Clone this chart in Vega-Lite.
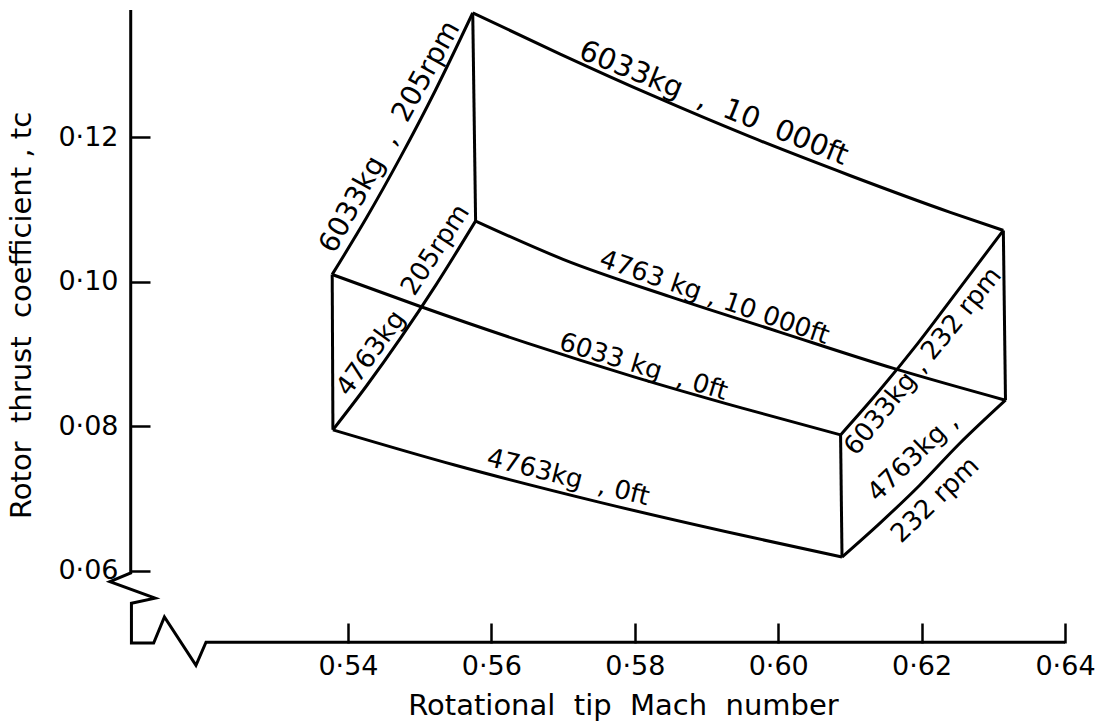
{
  "$schema": "https://vega.github.io/schema/vega-lite/v6.json",
  "width": 935,
  "height": 633,
  "autosize": {"type": "none"},
  "padding": {"left": 130, "top": 10, "right": 42, "bottom": 85},
  "background": "white",
  "config": {"view": {"stroke": null}},
  "datasets": {
    "axisline": [
      {"i": 0, "x": 0.5097, "y": 0.1376},
      {"i": 1, "x": 0.5097, "y": 0.0597},
      {"i": 2, "x": 0.5068, "y": 0.0585},
      {"i": 3, "x": 0.5131, "y": 0.0562},
      {"i": 4, "x": 0.5098, "y": 0.0555},
      {"i": 5, "x": 0.5098, "y": 0.0500},
      {"i": 6, "x": 0.5129, "y": 0.0500},
      {"i": 7, "x": 0.5144, "y": 0.0536},
      {"i": 8, "x": 0.5188, "y": 0.0469},
      {"i": 9, "x": 0.5202, "y": 0.0501},
      {"i": 10, "x": 0.6400, "y": 0.0501}
    ],
    "lines": [
      {"seg": "A", "i": 0, "x": 0.5574, "y": 0.1372},
      {"seg": "A", "i": 1, "x": 0.5696, "y": 0.1315},
      {"seg": "A", "i": 2, "x": 0.5826, "y": 0.1257},
      {"seg": "A", "i": 3, "x": 0.5960, "y": 0.1201},
      {"seg": "A", "i": 4, "x": 0.6100, "y": 0.1147},
      {"seg": "A", "i": 5, "x": 0.6240, "y": 0.1096},
      {"seg": "A", "i": 6, "x": 0.6314, "y": 0.1071},

      {"seg": "B", "i": 0, "x": 0.5378, "y": 0.1010},
      {"seg": "B", "i": 1, "x": 0.5500, "y": 0.0966},
      {"seg": "B", "i": 2, "x": 0.5650, "y": 0.0915},
      {"seg": "B", "i": 3, "x": 0.5800, "y": 0.0868},
      {"seg": "B", "i": 4, "x": 0.5950, "y": 0.0825},
      {"seg": "B", "i": 5, "x": 0.6087, "y": 0.0788},

      {"seg": "C", "i": 0, "x": 0.5578, "y": 0.1084},
      {"seg": "C", "i": 1, "x": 0.5700, "y": 0.1031},
      {"seg": "C", "i": 2, "x": 0.5850, "y": 0.0979},
      {"seg": "C", "i": 3, "x": 0.6000, "y": 0.0931},
      {"seg": "C", "i": 4, "x": 0.6161, "y": 0.0880},
      {"seg": "C", "i": 5, "x": 0.6317, "y": 0.0836},

      {"seg": "D", "i": 0, "x": 0.5379, "y": 0.0795},
      {"seg": "D", "i": 1, "x": 0.5550, "y": 0.0746},
      {"seg": "D", "i": 2, "x": 0.5750, "y": 0.0695},
      {"seg": "D", "i": 3, "x": 0.5950, "y": 0.0649},
      {"seg": "D", "i": 4, "x": 0.6089, "y": 0.0619},

      {"seg": "E", "i": 0, "x": 0.5378, "y": 0.1010},
      {"seg": "E", "i": 1, "x": 0.5425, "y": 0.1087},
      {"seg": "E", "i": 2, "x": 0.5473, "y": 0.1172},
      {"seg": "E", "i": 3, "x": 0.5522, "y": 0.1265},
      {"seg": "E", "i": 4, "x": 0.5574, "y": 0.1372},

      {"seg": "F", "i": 0, "x": 0.5379, "y": 0.0795},
      {"seg": "F", "i": 1, "x": 0.5426, "y": 0.0856},
      {"seg": "F", "i": 2, "x": 0.5474, "y": 0.0923},
      {"seg": "F", "i": 3, "x": 0.5523, "y": 0.0996},
      {"seg": "F", "i": 4, "x": 0.5578, "y": 0.1084},

      {"seg": "G", "i": 0, "x": 0.6087, "y": 0.0788},
      {"seg": "G", "i": 1, "x": 0.6140, "y": 0.0848},
      {"seg": "G", "i": 2, "x": 0.6195, "y": 0.0915},
      {"seg": "G", "i": 3, "x": 0.6250, "y": 0.0987},
      {"seg": "G", "i": 4, "x": 0.6314, "y": 0.1071},

      {"seg": "H", "i": 0, "x": 0.6089, "y": 0.0619},
      {"seg": "H", "i": 1, "x": 0.6142, "y": 0.0666},
      {"seg": "H", "i": 2, "x": 0.6197, "y": 0.0718},
      {"seg": "H", "i": 3, "x": 0.6252, "y": 0.0775},
      {"seg": "H", "i": 4, "x": 0.6317, "y": 0.0836},

      {"seg": "V1", "i": 0, "x": 0.5378, "y": 0.1010},
      {"seg": "V1", "i": 1, "x": 0.5379, "y": 0.0795},
      {"seg": "V3", "i": 0, "x": 0.5574, "y": 0.1372},
      {"seg": "V3", "i": 1, "x": 0.5578, "y": 0.1084},
      {"seg": "V5", "i": 0, "x": 0.6314, "y": 0.1071},
      {"seg": "V5", "i": 1, "x": 0.6317, "y": 0.0836},
      {"seg": "V7", "i": 0, "x": 0.6087, "y": 0.0788},
      {"seg": "V7", "i": 1, "x": 0.6089, "y": 0.0619}
    ],
    "labels": [
      {"id": 1, "label": "6033kg\u00a0 , \u00a0205rpm", "x": 0.5459, "y": 0.1200},
      {"id": 2, "label": "6033kg\u00a0 ,\u00a0 10\u00a0 000ft", "x": 0.5910, "y": 0.1247},
      {"id": 3, "label": "205rpm", "x": 0.5522, "y": 0.1044},
      {"id": 4, "label": "4763kg", "x": 0.5432, "y": 0.0901},
      {"id": 5, "label": "4763 kg , 10 000ft", "x": 0.5911, "y": 0.0978},
      {"id": 6, "label": "6033 kg\u00a0 , 0ft", "x": 0.5812, "y": 0.0882},
      {"id": 7, "label": "4763kg\u00a0 , 0ft", "x": 0.5707, "y": 0.0729},
      {"id": 8, "label": "6033kg , 232 rpm", "x": 0.6202, "y": 0.0890},
      {"id": 9, "label": "4763kg ,", "x": 0.6188, "y": 0.0757},
      {"id": 10, "label": "232 rpm", "x": 0.6219, "y": 0.0698}
    ]
  },
  "layer": [
    {
      "data": {"name": "axisline"},
      "mark": {"type": "line", "color": "black", "strokeWidth": 3, "strokeJoin": "miter", "clip": false},
      "encoding": {
        "x": {
          "field": "x", "type": "quantitative",
          "scale": {"domain": [0.5096, 0.64], "zero": false, "nice": false},
          "axis": {
            "values": [0.54, 0.56, 0.58, 0.60, 0.62, 0.64],
            "labelExpr": "replace(format(datum.value, '.2f'), '.', '·')",
            "domain": false, "grid": false,
            "tickSize": -20, "tickWidth": 2.5, "tickColor": "black",
            "labelPadding": 30, "labelFontSize": 27, "labelFont": "DejaVu Sans", "labelColor": "black",
            "labelFlush": false, "labelOverlap": false,
            "title": "Rotational \u00a0tip \u00a0Mach \u00a0number",
            "titleFont": "DejaVu Sans", "titleFontSize": 29, "titleFontWeight": "normal", "titleColor": "black",
            "titlePadding": 12, "titleX": 493
          }
        },
        "y": {
          "field": "y", "type": "quantitative",
          "scale": {"domain": [0.05, 0.1376], "zero": false, "nice": false},
          "axis": {
            "values": [0.06, 0.08, 0.10, 0.12],
            "labelExpr": "replace(format(datum.value, '.2f'), '.', '·')",
            "domain": false, "grid": false,
            "tickSize": -20, "tickWidth": 2.5, "tickColor": "black",
            "labelPadding": 32, "labelFontSize": 27, "labelFont": "DejaVu Sans", "labelColor": "black",
            "labelFlush": false, "labelOverlap": false,
            "title": "Rotor \u00a0thrust \u00a0coefficient , tc",
            "titleFont": "DejaVu Sans", "titleFontSize": 29, "titleFontWeight": "normal", "titleColor": "black",
            "titlePadding": 21, "titleY": 305
          }
        },
        "order": {"field": "i", "type": "quantitative"}
      }
    },
    {
      "data": {"name": "lines"},
      "mark": {"type": "line", "color": "black", "strokeWidth": 3, "interpolate": "monotone", "clip": false},
      "encoding": {
        "x": {"field": "x", "type": "quantitative"},
        "y": {"field": "y", "type": "quantitative"},
        "detail": {"field": "seg"},
        "order": {"field": "i", "type": "quantitative"}
      }
    },
    {"data": {"name": "labels"}, "transform": [{"filter": "datum.id == 1"}],
     "mark": {"type": "text", "angle": -61, "font": "DejaVu Sans", "fontSize": 28, "color": "black", "align": "center", "baseline": "middle"},
     "encoding": {"x": {"field": "x", "type": "quantitative"}, "y": {"field": "y", "type": "quantitative"}, "text": {"field": "label"}}},
    {"data": {"name": "labels"}, "transform": [{"filter": "datum.id == 2"}],
     "mark": {"type": "text", "angle": 22, "font": "DejaVu Sans", "fontSize": 29, "color": "black", "align": "center", "baseline": "middle"},
     "encoding": {"x": {"field": "x", "type": "quantitative"}, "y": {"field": "y", "type": "quantitative"}, "text": {"field": "label"}}},
    {"data": {"name": "labels"}, "transform": [{"filter": "datum.id == 3"}],
     "mark": {"type": "text", "angle": -57, "font": "DejaVu Sans", "fontSize": 26, "color": "black", "align": "center", "baseline": "middle"},
     "encoding": {"x": {"field": "x", "type": "quantitative"}, "y": {"field": "y", "type": "quantitative"}, "text": {"field": "label"}}},
    {"data": {"name": "labels"}, "transform": [{"filter": "datum.id == 4"}],
     "mark": {"type": "text", "angle": -54, "font": "DejaVu Sans", "fontSize": 26, "color": "black", "align": "center", "baseline": "middle"},
     "encoding": {"x": {"field": "x", "type": "quantitative"}, "y": {"field": "y", "type": "quantitative"}, "text": {"field": "label"}}},
    {"data": {"name": "labels"}, "transform": [{"filter": "datum.id == 5"}],
     "mark": {"type": "text", "angle": 19, "font": "DejaVu Sans", "fontSize": 26, "color": "black", "align": "center", "baseline": "middle"},
     "encoding": {"x": {"field": "x", "type": "quantitative"}, "y": {"field": "y", "type": "quantitative"}, "text": {"field": "label"}}},
    {"data": {"name": "labels"}, "transform": [{"filter": "datum.id == 6"}],
     "mark": {"type": "text", "angle": 17, "font": "DejaVu Sans", "fontSize": 26, "color": "black", "align": "center", "baseline": "middle"},
     "encoding": {"x": {"field": "x", "type": "quantitative"}, "y": {"field": "y", "type": "quantitative"}, "text": {"field": "label"}}},
    {"data": {"name": "labels"}, "transform": [{"filter": "datum.id == 7"}],
     "mark": {"type": "text", "angle": 14, "font": "DejaVu Sans", "fontSize": 26, "color": "black", "align": "center", "baseline": "middle"},
     "encoding": {"x": {"field": "x", "type": "quantitative"}, "y": {"field": "y", "type": "quantitative"}, "text": {"field": "label"}}},
    {"data": {"name": "labels"}, "transform": [{"filter": "datum.id == 8"}],
     "mark": {"type": "text", "angle": -51, "font": "DejaVu Sans", "fontSize": 26, "color": "black", "align": "center", "baseline": "middle"},
     "encoding": {"x": {"field": "x", "type": "quantitative"}, "y": {"field": "y", "type": "quantitative"}, "text": {"field": "label"}}},
    {"data": {"name": "labels"}, "transform": [{"filter": "datum.id == 9"}],
     "mark": {"type": "text", "angle": -44, "font": "DejaVu Sans", "fontSize": 26, "color": "black", "align": "center", "baseline": "middle"},
     "encoding": {"x": {"field": "x", "type": "quantitative"}, "y": {"field": "y", "type": "quantitative"}, "text": {"field": "label"}}},
    {"data": {"name": "labels"}, "transform": [{"filter": "datum.id == 10"}],
     "mark": {"type": "text", "angle": -44, "font": "DejaVu Sans", "fontSize": 26, "color": "black", "align": "center", "baseline": "middle"},
     "encoding": {"x": {"field": "x", "type": "quantitative"}, "y": {"field": "y", "type": "quantitative"}, "text": {"field": "label"}}}
  ]
}
